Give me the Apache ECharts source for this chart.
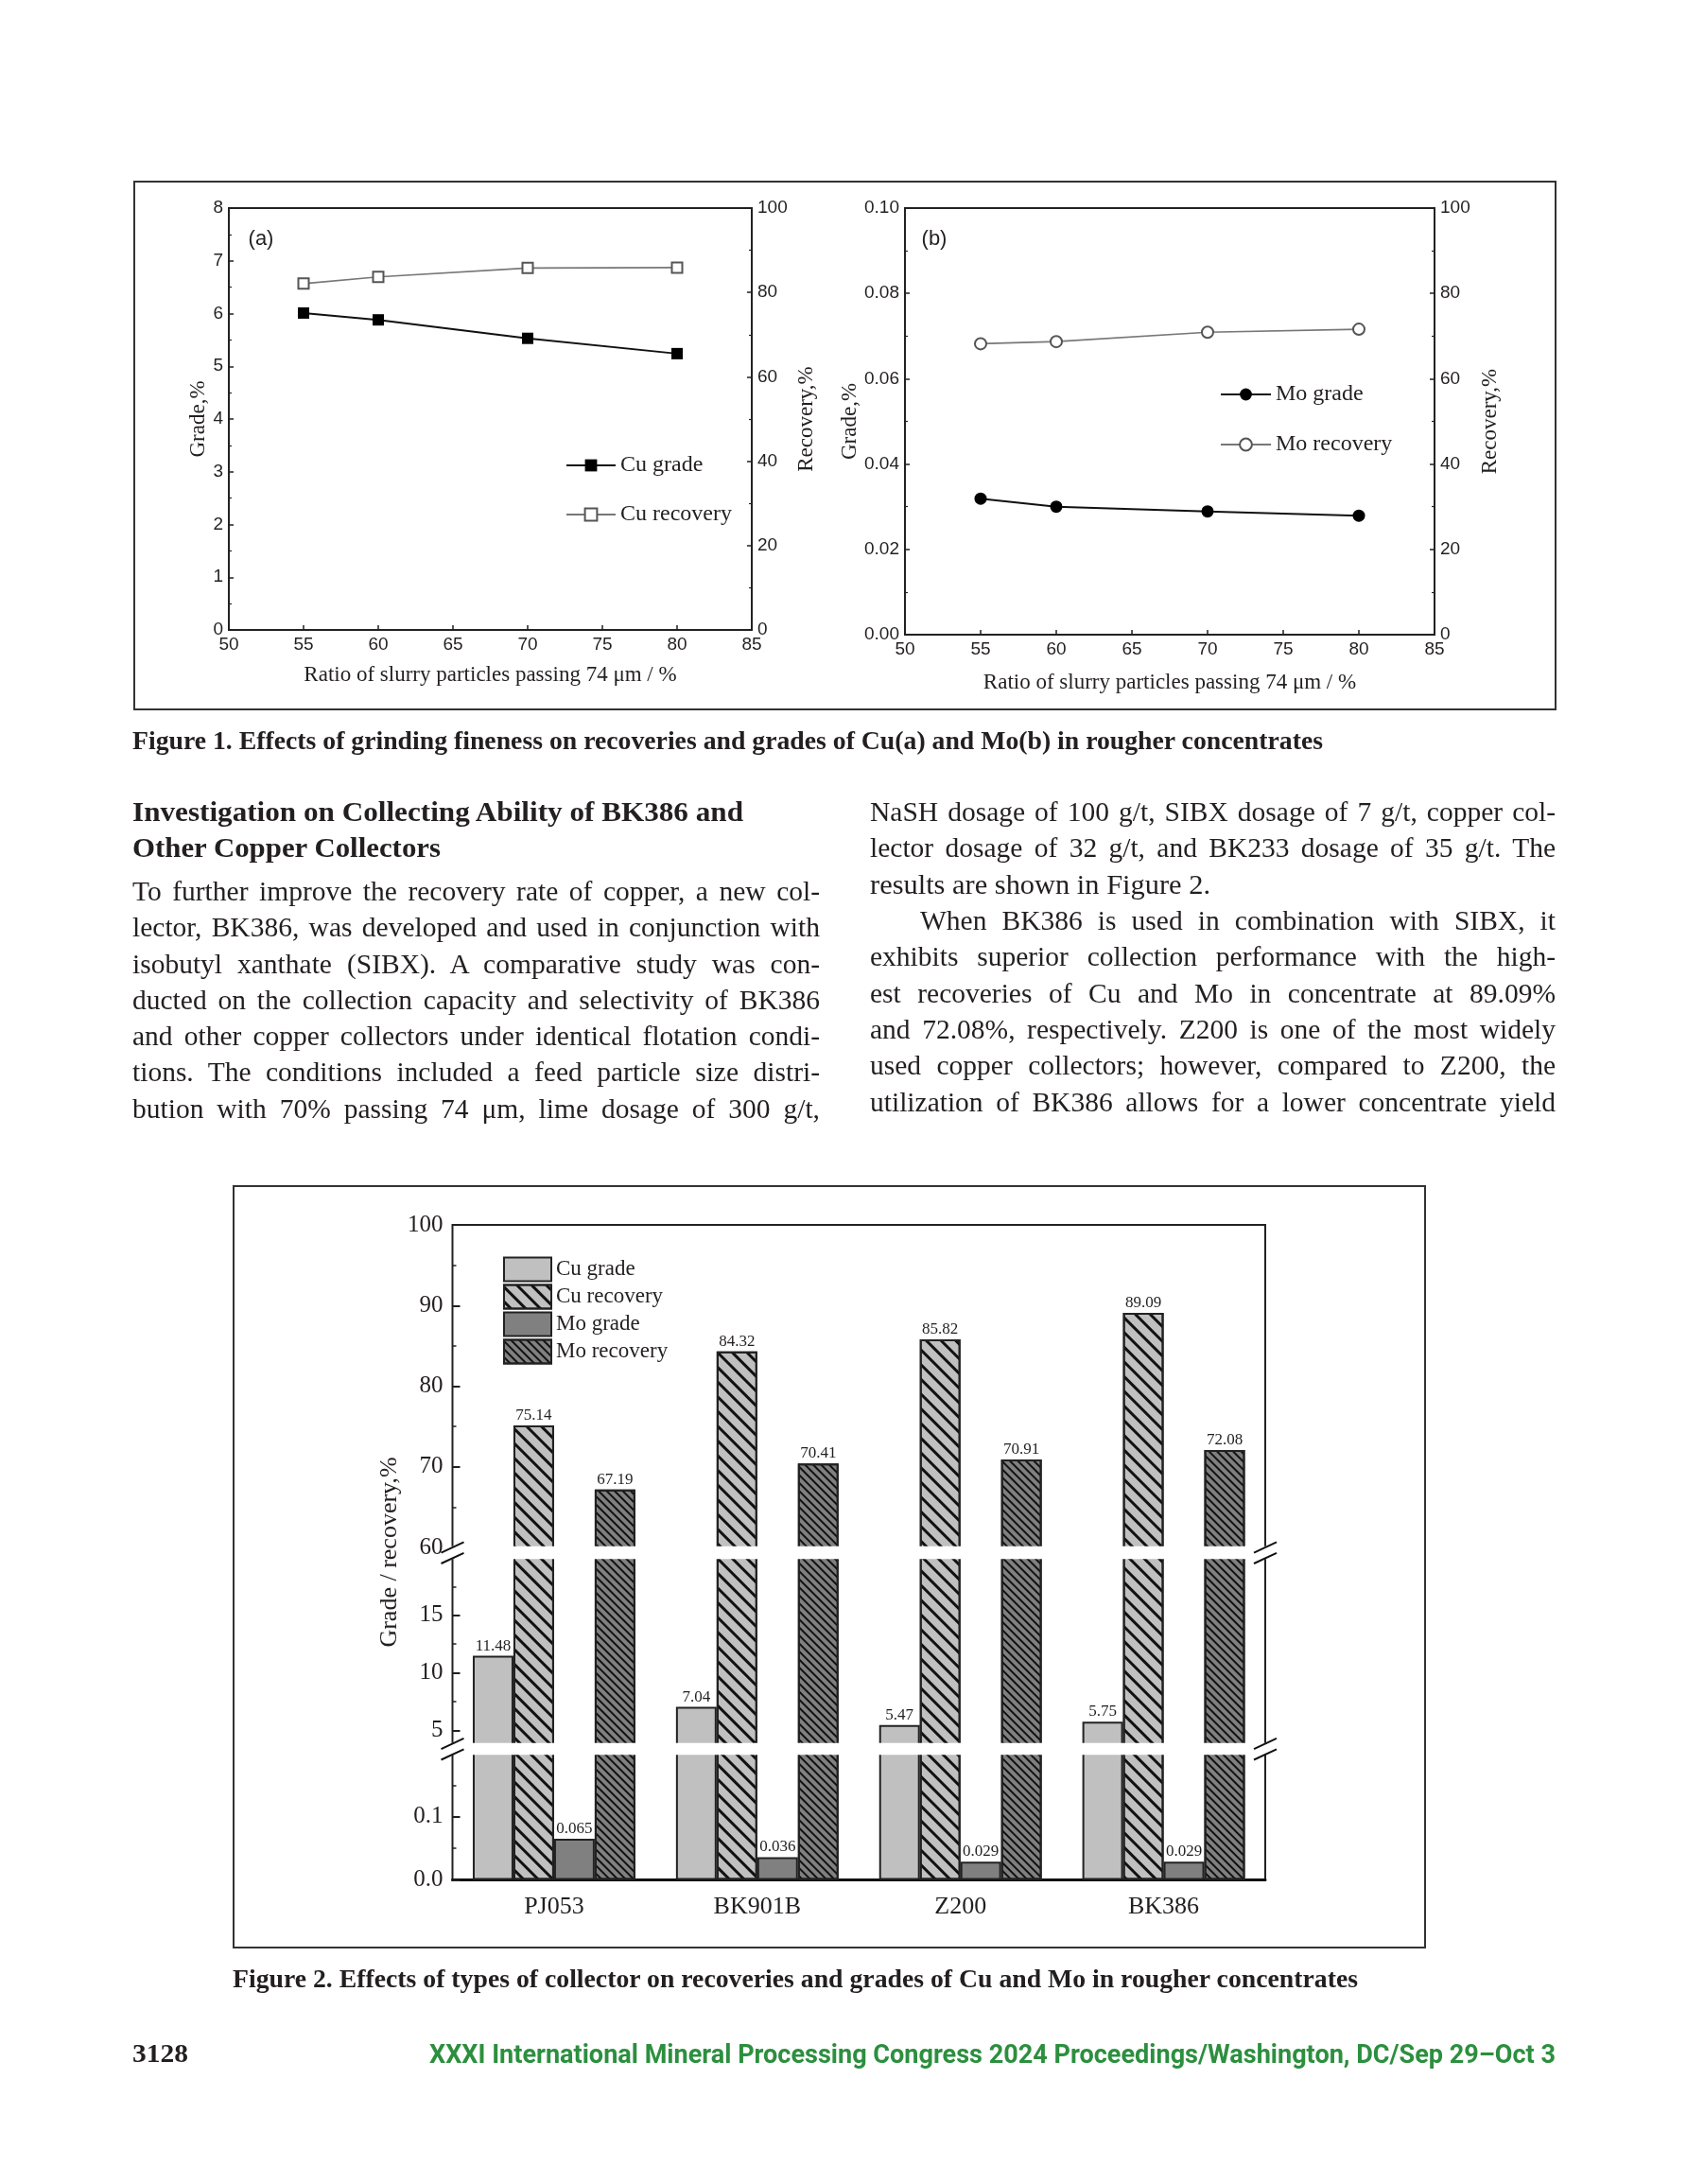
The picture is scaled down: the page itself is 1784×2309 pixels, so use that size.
<!DOCTYPE html>
<html><head><meta charset="utf-8">
<script src="https://cdn.jsdelivr.net/npm/echarts@6/dist/echarts.min.js"></script>
<style>
html,body{margin:0;padding:0;background:#fff;}
#page{position:relative;width:1784px;height:2309px;overflow:hidden;background:#fff;}
#chart{position:absolute;left:0;top:0;width:1784px;height:2309px;}
.ln{position:absolute;white-space:nowrap;color:#231f20;font-family:"Liberation Serif","Times New Roman",serif;line-height:38px;height:38px;transform-origin:0 50%;z-index:2;}
</style></head><body><div id="page"><div id="chart"></div></div>
<script>
// ---------- data: Figure 1 ----------
const FINENESS = [55, 60, 70, 80];
const CU_GRADE_A = [6.01, 5.88, 5.53, 5.24];
const CU_RECOVERY_A = [82.1, 83.7, 85.8, 85.9];
const MO_GRADE_B = [0.0319, 0.0300, 0.0289, 0.0279];
const MO_RECOVERY_B = [68.2, 68.7, 70.9, 71.6];
// ---------- data: Figure 2 ----------
const COLLECTORS = ['PJ053', 'BK901B', 'Z200', 'BK386'];
const CU_GRADE = [11.48, 7.04, 5.47, 5.75];
const CU_RECOVERY = [75.14, 84.32, 85.82, 89.09];
const MO_GRADE = [0.065, 0.036, 0.029, 0.029];
const MO_RECOVERY = [67.19, 70.41, 70.91, 72.08];
const SERIES_NAMES = ['Cu grade', 'Cu recovery', 'Mo grade', 'Mo recovery'];

// ---------- page text ----------
const TEXT_LINES = [
  {t:'Figure 1. Effects of grinding fineness on recoveries and grades of Cu(a) and Mo(b) in rougher concentrates', x:140, y:783, w:1259, size:27, bold:true, mode:'fit'},
  {t:'Investigation on Collecting Ability of BK386 and', x:140, y:858, w:646, size:29, bold:true, mode:'fit'},
  {t:'Other Copper Collectors', x:140, y:896, w:326, size:29, bold:true, mode:'fit'},
  {t:'To further improve the recovery rate of copper, a new col-', x:140, y:942, w:727, size:29.5, mode:'justify'},
  {t:'lector, BK386, was developed and used in conjunction with', x:140, y:980, w:727, size:29.5, mode:'justify'},
  {t:'isobutyl xanthate (SIBX). A comparative study was con-', x:140, y:1019, w:727, size:29.5, mode:'justify'},
  {t:'ducted on the collection capacity and selectivity of BK386', x:140, y:1057, w:727, size:29.5, mode:'justify'},
  {t:'and other copper collectors under identical flotation condi-', x:140, y:1095, w:727, size:29.5, mode:'justify'},
  {t:'tions. The conditions included a feed particle size distri-', x:140, y:1133, w:727, size:29.5, mode:'justify'},
  {t:'bution with 70% passing 74 μm, lime dosage of 300 g/t,', x:140, y:1172, w:727, size:29.5, mode:'justify'},
  {t:'NaSH dosage of 100 g/t, SIBX dosage of 7 g/t, copper col-', x:920, y:858, w:725, size:29.5, mode:'justify'},
  {t:'lector dosage of 32 g/t, and BK233 dosage of 35 g/t. The', x:920, y:896, w:725, size:29.5, mode:'justify'},
  {t:'results are shown in Figure 2.', x:920, y:934.5, w:360, size:29.5, mode:'fit'},
  {t:'When BK386 is used in combination with SIBX, it', x:973, y:973, w:672, size:29.5, mode:'justify'},
  {t:'exhibits superior collection performance with the high-', x:920, y:1011, w:725, size:29.5, mode:'justify'},
  {t:'est recoveries of Cu and Mo in concentrate at 89.09%', x:920, y:1049.5, w:725, size:29.5, mode:'justify'},
  {t:'and 72.08%, respectively. Z200 is one of the most widely', x:920, y:1088, w:725, size:29.5, mode:'justify'},
  {t:'used copper collectors; however, compared to Z200, the', x:920, y:1126, w:725, size:29.5, mode:'justify'},
  {t:'utilization of BK386 allows for a lower concentrate yield', x:920, y:1164.5, w:725, size:29.5, mode:'justify'},
  {t:'Figure 2. Effects of types of collector on recoveries and grades of Cu and Mo in rougher concentrates', x:246, y:2092, w:1190, size:27, bold:true, mode:'fit'},
  {t:'3128', x:140, y:2171, w:59, size:27, bold:true, mode:'fit'},
  {t:'XXXI International Mineral Processing Congress 2024 Proceedings/Washington, DC/Sep 29–Oct 3', x:454, y:2172, w:1191, size:27, bold:true, mode:'fit', font:'Roboto, "Liberation Sans", sans-serif', color:'#2c8f3e'}
];

const page = document.getElementById('page');
function placeLine(L) {
  const d = document.createElement('div');
  d.className = 'ln';
  d.style.left = L.x + 'px';
  d.style.top = (L.y - 19) + 'px';
  d.style.fontSize = L.size + 'px';
  d.style.fontWeight = L.bold ? 'bold' : 'normal';
  if (L.font) d.style.fontFamily = L.font;
  if (L.color) d.style.color = L.color;
  d.textContent = L.t;
  page.appendChild(d);
  const w = d.getBoundingClientRect().width;
  const spaces = (L.t.match(/ /g) || []).length;
  if (L.mode === 'justify' && w <= L.w && spaces) {
    d.style.wordSpacing = ((L.w - w) / spaces) + 'px';
  } else {
    d.style.transform = 'scaleX(' + (L.w / w) + ')';
  }
}
TEXT_LINES.forEach(placeLine);

// ---------- chart ----------
const SANS = '"Liberation Sans", Arial, sans-serif';
const SERIF = '"Liberation Serif", "Times New Roman", serif';
const INK = '#231f20';
const F2 = '\u200b'; // marker to keep figure-2 series separate from figure-1 series

function fig1X(gridIndex, nameGap) {
  return {type:'value', gridIndex, min:50, max:85, interval:5, position:'bottom',
    name:'Ratio of slurry particles passing 74 μm / %', nameLocation:'middle', nameGap,
    nameTextStyle:{fontFamily:SERIF, fontSize:23, color:INK},
    axisLine:{show:false}, axisTick:{show:true, inside:true, length:5, lineStyle:{color:INK, width:1.5}},
    axisLabel:{fontFamily:SANS, fontSize:19, color:INK, margin:6}, splitLine:{show:false}};
}
function fig1Y(gridIndex, position, min, max, interval, name, nameGap, dec) {
  return {type:'value', gridIndex, position, min, max, interval,
    name, nameLocation:'middle', nameGap, nameRotate:90,
    nameTextStyle:{fontFamily:SERIF, fontSize:23, color:INK},
    axisLine:{show:false},
    axisTick:{show:true, inside:true, length:5, lineStyle:{color:INK, width:1.5}},
    minorTick:{show:true, splitNumber:2, length:3, lineStyle:{color:INK, width:1.2}},
    axisLabel:{fontFamily:SANS, fontSize:19, color:INK, margin:6,
      formatter: v => v.toFixed(dec)},
    splitLine:{show:false}, minorSplitLine:{show:false}};
}

const F2_LEFT = 478.5, F2_WIDTH = 859.5;
const SEGMENTS = [
  {grid:2, x:2, y:4, min:60, max:100},
  {grid:3, x:3, y:5, min:3.8, max:20},
  {grid:4, x:4, y:7, min:0, max:0.2}
];
const HATCH_CU = {symbol:'rect', symbolSize:1, color:'#111', dashArrayX:[1,0], dashArrayY:[2.2,7.2], rotation:Math.PI/4};
const HATCH_MO = {symbol:'rect', symbolSize:1, color:'#111', dashArrayX:[1,0], dashArrayY:[1.8,3.4], rotation:Math.PI/4};
const BAR_DEFS = [
  {name:SERIES_NAMES[0], values:CU_GRADE, color:'#c0c0c0', decal:null, dec:2},
  {name:SERIES_NAMES[1], values:CU_RECOVERY, color:'#c0c0c0', decal:HATCH_CU, dec:2},
  {name:SERIES_NAMES[2], values:MO_GRADE, color:'#808080', decal:null, dec:3},
  {name:SERIES_NAMES[3], values:MO_RECOVERY, color:'#808080', decal:HATCH_MO, dec:2}
];

const barSeries = [];
SEGMENTS.forEach(seg => {
  BAR_DEFS.forEach(b => {
    const itemStyle = {color:b.color, borderColor:'#222', borderWidth:2};
    if (b.decal) itemStyle.decal = b.decal;
    barSeries.push({
      type:'bar', name:b.name + F2, xAxisIndex:seg.x, yAxisIndex:seg.y,
      barGap:'0%', barCategoryGap:'20%', clip:true, itemStyle,
      label:{position:'top', distance:2, fontFamily:SERIF, fontSize:17, color:INK,
        formatter: p => p.value.toFixed(b.dec)},
      emphasis:{disabled:true},
      data: b.values.map(v => ({value:v, label:{show: v >= seg.min && v <= seg.max}}))
    });
  });
});

const lineSeries = [
  {type:'line', name:SERIES_NAMES[0], xAxisIndex:0, yAxisIndex:0, symbol:'rect', symbolSize:12,
   itemStyle:{color:'#000'}, lineStyle:{color:'#111', width:2},
   data: FINENESS.map((x,i) => [x, CU_GRADE_A[i]])},
  {type:'line', name:SERIES_NAMES[1], xAxisIndex:0, yAxisIndex:1, symbol:'emptyRect', symbolSize:11,
   itemStyle:{color:'#555', borderWidth:1.5}, lineStyle:{color:'#777', width:1.6},
   data: FINENESS.map((x,i) => [x, CU_RECOVERY_A[i]])},
  {type:'line', name:SERIES_NAMES[2], xAxisIndex:1, yAxisIndex:2, symbol:'circle', symbolSize:13,
   itemStyle:{color:'#000'}, lineStyle:{color:'#111', width:2},
   data: FINENESS.map((x,i) => [x, MO_GRADE_B[i]])},
  {type:'line', name:SERIES_NAMES[3], xAxisIndex:1, yAxisIndex:3, symbol:'emptyCircle', symbolSize:12,
   itemStyle:{color:'#555', borderWidth:1.5}, lineStyle:{color:'#777', width:1.6},
   data: FINENESS.map((x,i) => [x, MO_RECOVERY_B[i]])}
];

const f2CatAxis = (gridIndex, show) => ({type:'category', gridIndex, data:COLLECTORS,
  axisLine:{show, lineStyle:{color:'#111', width:3}}, axisTick:{show:false},
  axisLabel:{show, fontFamily:SERIF, fontSize:26, color:INK, margin:16}, splitLine:{show:false}});

const f2Y = (gridIndex, extra) => Object.assign({type:'value', gridIndex, position:'left',
  axisLine:{show:false},
  axisTick:{show:true, inside:true, length:8, lineStyle:{color:INK, width:2}},
  minorTick:{show:true, splitNumber:2, length:4, lineStyle:{color:INK, width:1.5}},
  axisLabel:{fontFamily:SERIF, fontSize:25, color:INK, margin:10},
  splitLine:{show:false}}, extra);

function breakMarks(cx, gy) {
  const out = [];
  [-5.7, 5.7].forEach(off => {
    out.push({type:'line', z:101, silent:true,
      shape:{x1:cx-12, y1:gy+off+5.6, x2:cx+12, y2:gy+off-5.6},
      style:{stroke:'#111', lineWidth:2}});
  });
  return out;
}

const GRID_BORDER = {show:true, borderColor:'#222', borderWidth:2, backgroundColor:'rgba(0,0,0,0)'};

const option = {
  animation:false,
  backgroundColor:'rgba(0,0,0,0)',
  grid:[
    Object.assign({left:242, top:220, width:553, height:446}, GRID_BORDER),
    Object.assign({left:957, top:220, width:560, height:451}, GRID_BORDER),
    Object.assign({left:F2_LEFT, top:1295, width:F2_WIDTH, height:341}, GRID_BORDER),
    Object.assign({left:F2_LEFT, top:1647, width:F2_WIDTH, height:197}, GRID_BORDER),
    Object.assign({left:F2_LEFT, top:1854, width:F2_WIDTH, height:133.5}, GRID_BORDER)
  ],
  xAxis:[
    fig1X(0, 36), fig1X(1, 39),
    f2CatAxis(2, false), f2CatAxis(3, false), f2CatAxis(4, true)
  ],
  yAxis:[
    fig1Y(0, 'left', 0, 8, 1, 'Grade,%', 18, 0),
    fig1Y(0, 'right', 0, 100, 20, 'Recovery,%', 46, 0),
    fig1Y(1, 'left', 0, 0.1, 0.02, 'Grade,%', 46, 2),
    fig1Y(1, 'right', 0, 100, 20, 'Recovery,%', 47, 0),
    f2Y(2, {min:60, max:100, interval:10}),
    f2Y(3, {min:3.8, max:20, minorTick:{show:false},
      axisLabel:{fontFamily:SERIF, fontSize:25, color:INK, margin:10, customValues:[5,10,15]},
      axisTick:{show:true, inside:true, length:8, lineStyle:{color:INK, width:2}, customValues:[5,10,15]}}),
    f2Y(3, {min:3.8, max:20, minorTick:{show:false}, axisLabel:{show:false},
      axisTick:{show:true, inside:true, length:4, lineStyle:{color:INK, width:1.5}, customValues:[7.5,12.5,17.5]}}),
    f2Y(4, {min:0, max:0.2, interval:0.1,
      axisLabel:{fontFamily:SERIF, fontSize:25, color:INK, margin:10, showMaxLabel:false, formatter: v => v.toFixed(1)}})
  ],
  legend:[
    {data:[SERIES_NAMES[0], SERIES_NAMES[1]], orient:'vertical', left:593, top:475,
     itemWidth:52, itemHeight:16, itemGap:28, textStyle:{fontFamily:SERIF, fontSize:24, color:INK}, selectedMode:false},
    {data:[SERIES_NAMES[2], SERIES_NAMES[3]], orient:'vertical', left:1285, top:400,
     itemWidth:53, itemHeight:16, itemGap:29, textStyle:{fontFamily:SERIF, fontSize:24, color:INK}, selectedMode:false},
    {data:SERIES_NAMES.map(n => n + F2), orient:'vertical', left:527, top:1323.5, icon:'rect',
     itemWidth:50, itemHeight:25, itemGap:2, selectedMode:false,
     formatter: n => n.replace(F2, ''),
     textStyle:{fontFamily:SERIF, fontSize:23, color:INK}}
  ],
  series: lineSeries.concat(barSeries),
  graphic:[
    {type:'rect', z:50, silent:true, shape:{x:142, y:192, width:1503, height:558}, style:{fill:'rgba(0,0,0,0)', stroke:'#333', lineWidth:2}},
    {type:'rect', z:50, silent:true, shape:{x:247, y:1254, width:1260, height:805}, style:{fill:'rgba(0,0,0,0)', stroke:'#333', lineWidth:2}},
    {type:'text', z:50, x:276, y:253, style:{text:'(a)', font:'22px "Liberation Sans"', fill:INK, align:'center', verticalAlign:'middle'}},
    {type:'text', z:50, x:988, y:253, style:{text:'(b)', font:'22px "Liberation Sans"', fill:INK, align:'center', verticalAlign:'middle'}},
    {type:'text', z:50, x:412, y:1641, rotation:Math.PI/2, style:{text:'Grade / recovery,%', font:'26px "Liberation Serif"', fill:INK, align:'center', verticalAlign:'middle'}},
    {type:'rect', z:100, silent:true, shape:{x:471, y:1634.8, width:880, height:13.4}, style:{fill:'#fff'}},
    {type:'rect', z:100, silent:true, shape:{x:471, y:1842.8, width:880, height:12.4}, style:{fill:'#fff'}}
  ].concat(breakMarks(F2_LEFT, 1641.7), breakMarks(F2_LEFT + F2_WIDTH, 1641.7),
           breakMarks(F2_LEFT, 1849.2), breakMarks(F2_LEFT + F2_WIDTH, 1849.2))
};

const chart = echarts.init(document.getElementById('chart'), null, {renderer:'canvas'});
chart.setOption(option);
</script>
</body></html>
